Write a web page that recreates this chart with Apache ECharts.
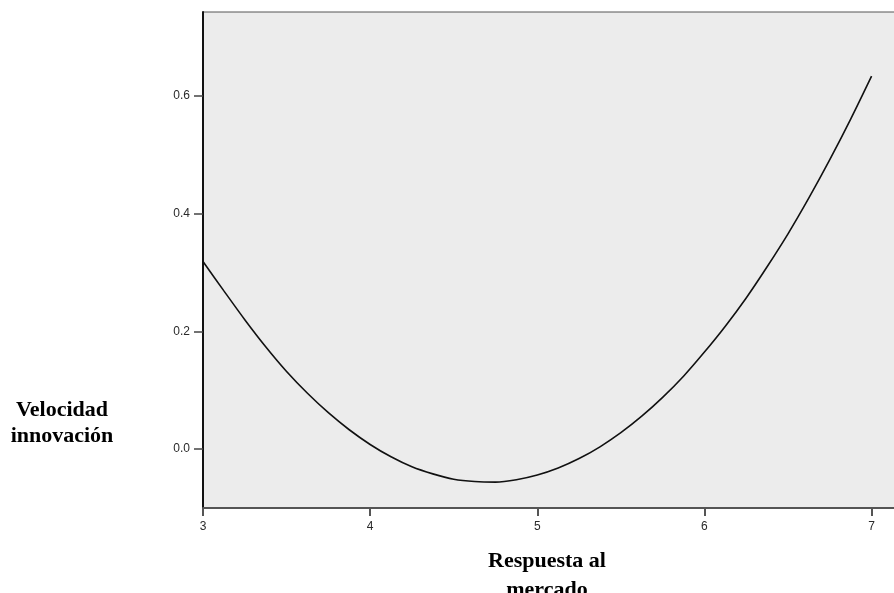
<!DOCTYPE html>
<html>
<head>
<meta charset="utf-8">
<script src="https://cdn.jsdelivr.net/npm/echarts@6/dist/echarts.min.js"></script>
<style>
  html, body { margin: 0; padding: 0; background: #fff; }
  #chart { width: 894px; height: 593px; }
</style>
</head>
<body>
<div id="chart"></div>
<script>
// values
const respuesta = [
  3.0, 3.125, 3.25, 3.375, 3.5, 3.625, 3.75, 3.875, 4.0, 4.125, 4.25, 4.375,
  4.5, 4.625, 4.75, 4.875, 5.0, 5.125, 5.25, 5.375, 5.5, 5.625, 5.75, 5.875,
  6.0, 6.125, 6.25, 6.375, 6.5, 6.625, 6.75, 6.875, 7.0,
];
const velocidad = [
  0.319, 0.269, 0.220, 0.174, 0.132, 0.095, 0.062, 0.033, 0.008, -0.013, -0.030, -0.042,
  -0.051, -0.055, -0.056, -0.052, -0.044, -0.032, -0.016, 0.004, 0.028, 0.056, 0.088, 0.124,
  0.165, 0.209, 0.257, 0.310, 0.366, 0.427, 0.492, 0.561, 0.634,
];

const xTicks = [3, 4, 5, 6, 7];
const yTicks = [0.0, 0.2, 0.4, 0.6];

const xTitle = "Respuesta al\nmercado";
const yTitle = "Velocidad\ninnovación";

const el = document.getElementById("chart");
const chart = echarts.init(el);

const points = respuesta.map((x, i) => [x, velocidad[i]]);

const tickFont = {
  fontFamily: "Liberation Sans, Arial, sans-serif",
  fontSize: 12,
  color: "#2a2a2a",
};

const titleFont = "bold 22px 'Liberation Serif', 'Times New Roman', serif";

const option = {
  animation: false,
  grid: {
    left: 203,
    top: 12,
    width: 702,
    height: 496,
    outerBoundsMode: "none",
    show: true,
    backgroundColor: "#ececec",
    borderColor: "#555",
    borderWidth: 1,
  },
  xAxis: {
    type: "value",
    min: 3,
    max: 7.2,
    splitLine: { show: false },
    axisLine: { show: true, onZero: false, lineStyle: { color: "#555", width: 2 } },
    axisTick: {
      show: true,
      length: 8,
      lineStyle: { color: "#555", width: 2 },
      customValues: xTicks,
    },
    axisLabel: {
      ...tickFont,
      margin: 13,
      customValues: xTicks,
      formatter: (v) => String(v),
    },
  },
  yAxis: {
    type: "value",
    min: -0.1,
    max: 0.743,
    splitLine: { show: false },
    axisLine: { show: true, onZero: false, lineStyle: { color: "#111", width: 2 } },
    axisTick: {
      show: true,
      length: 9,
      lineStyle: { color: "#444", width: 1.5 },
      customValues: yTicks,
    },
    axisLabel: {
      ...tickFont,
      margin: 13,
      customValues: yTicks,
      formatter: (v) => v.toFixed(1),
    },
  },
  series: [
    {
      type: "line",
      data: points,
      smooth: 0.3,
      showSymbol: false,
      lineStyle: { color: "#111", width: 1.6 },
    },
  ],
  graphic: [
    {
      type: "text",
      x: 62,
      y: 423,
      style: {
        text: yTitle,
        font: titleFont,
        fill: "#000",
        align: "center",
        verticalAlign: "middle",
        lineHeight: 26,
      },
    },
    {
      type: "text",
      x: 547,
      y: 576,
      style: {
        text: xTitle,
        font: titleFont,
        fill: "#000",
        align: "center",
        verticalAlign: "middle",
        lineHeight: 29,
      },
    },
  ],
};

chart.setOption(option);
window.addEventListener("resize", () => chart.resize());
</script>
</body>
</html>
